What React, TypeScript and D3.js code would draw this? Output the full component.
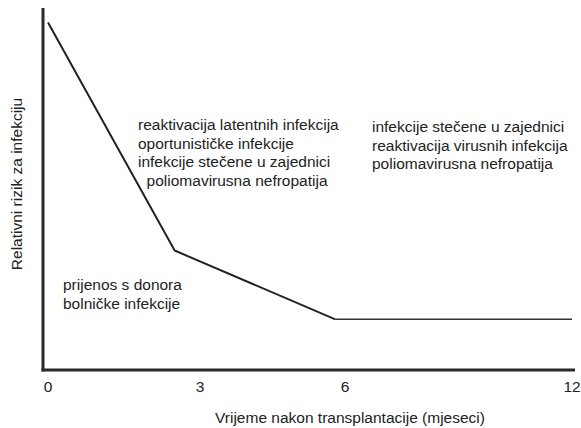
import React, { useEffect, useRef } from 'react';
import * as d3 from 'd3';

// months after transplant and relative risk (arbitrary units)
const months = [0, 2.5, 5.8, 12];
const risk = [96, 33, 14, 14];
const tickMonths = [0, 3, 6, 12];

const earlyNotes = ['prijenos s donora', 'bolničke infekcije'];
const middleNotes = [
  'reaktivacija latentnih infekcija',
  'oportunističke infekcije',
  'infekcije stečene u zajednici',
  '  poliomavirusna nefropatija',
];
const lateNotes = [
  'infekcije stečene u zajednici',
  'reaktivacija virusnih infekcija',
  'poliomavirusna nefropatija',
];

const W = 581;
const H = 428;
const FONT = '"Liberation Sans", Arial, sans-serif';

export default function App() {
  const svgRef = useRef<SVGSVGElement>(null);

  useEffect(() => {
    if (!svgRef.current) return;
    const svg = d3.select(svgRef.current);
    svg.selectAll('*').remove();

    const left = 43;
    const right = 575;
    const top = 8;
    const bottom = 370;

    // the time axis is not evenly spaced in the original
    const x = d3.scaleLinear().domain(tickMonths).range([48, 200, 345, 572]);
    const y = d3.scaleLinear().domain([0, 100]).range([bottom, top]);

    const g = svg.append('g').attr('font-family', FONT).attr('fill', '#222');

    // risk curve
    const pts = months.map((m, i) => [m, risk[i]] as [number, number]);
    const line = d3.line<[number, number]>()
      .x(d => x(d[0]))
      .y(d => y(d[1]));

    g.append('path')
      .datum(pts.slice(0, 3))
      .attr('fill', 'none')
      .attr('stroke', '#222')
      .attr('stroke-width', 2)
      .attr('stroke-linejoin', 'round')
      .attr('d', line);

    g.append('path')
      .datum(pts.slice(2))
      .attr('fill', 'none')
      .attr('stroke', '#333')
      .attr('stroke-width', 1.5)
      .attr('d', line);

    // axes lines
    g.append('line')
      .attr('x1', left).attr('x2', left)
      .attr('y1', top).attr('y2', bottom + 1.5)
      .attr('stroke', '#2a2a2a').attr('stroke-width', 3);
    g.append('line')
      .attr('x1', left - 1.5).attr('x2', right)
      .attr('y1', bottom).attr('y2', bottom)
      .attr('stroke', '#2a2a2a').attr('stroke-width', 3);

    // tick labels
    g.selectAll('.tick-label')
      .data(tickMonths)
      .enter()
      .append('text')
      .attr('x', d => x(d))
      .attr('y', 392)
      .attr('text-anchor', 'middle')
      .attr('font-size', '15.5px')
      .text(d => d);

    // axis titles
    g.append('text')
      .attr('x', 350)
      .attr('y', 423)
      .attr('text-anchor', 'middle')
      .attr('font-size', '15.5px')
      .text('Vrijeme nakon transplantacije (mjeseci)');

    g.append('text')
      .attr('transform', 'translate(22,184) rotate(-90)')
      .attr('text-anchor', 'middle')
      .attr('font-size', '15.5px')
      .text('Relativni rizik za infekciju');

    // annotation blocks
    const block = (lines: string[], x0: number, y0: number, step: number) => {
      g.append('text')
        .attr('font-size', '15.5px')
        .style('white-space', 'pre')
        .selectAll('tspan')
        .data(lines)
        .enter()
        .append('tspan')
        .attr('x', x0)
        .attr('y', (_, i) => y0 + i * step)
        .text(d => d);
    };

    block(earlyNotes, 63, 290, 18.5);
    block(middleNotes, 138, 130, 18.7);
    block(lateNotes, 372, 132, 18.5);
  }, []);

  return (
    <svg
      ref={svgRef}
      width={W}
      height={H}
      style={{ position: 'absolute', left: 0, top: 0, background: '#fff' }}
    />
  );
}
